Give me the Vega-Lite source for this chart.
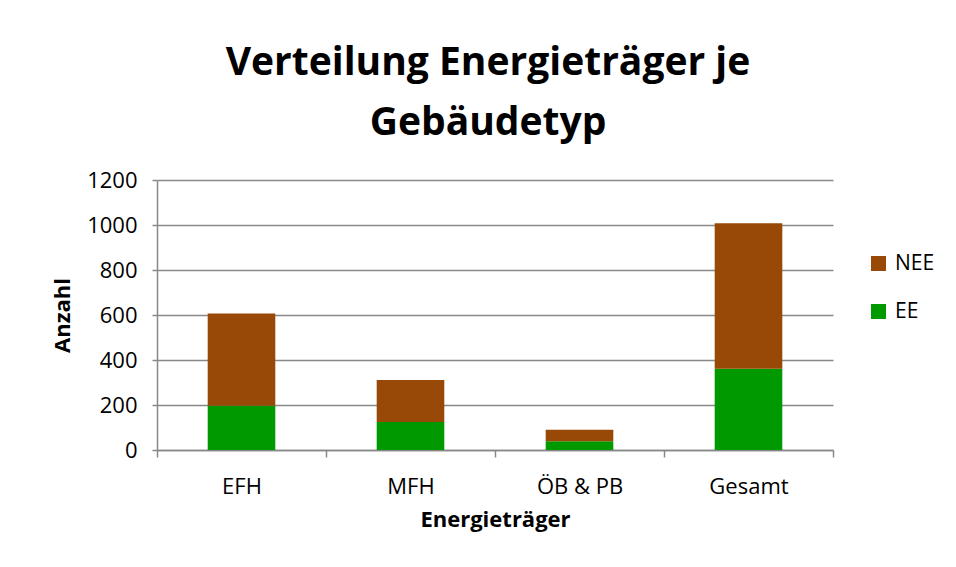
{
  "$schema": "https://vega.github.io/schema/vega-lite/v6.json",
  "width": 676,
  "height": 270,
  "autosize": {"type": "none"},
  "padding": {"left": 157, "top": 180, "right": 123, "bottom": 117},
  "background": "white",
  "title": {
    "text": ["Verteilung Energieträger je", "Gebäudetyp"],
    "font": "Open Sans",
    "fontSize": 39,
    "fontWeight": "bold",
    "lineHeight": 60,
    "color": "black",
    "anchor": "middle",
    "frame": "group",
    "dx": -7,
    "offset": 26
  },
  "data": {
    "values": [
      {"typ": "EFH", "art": "EE", "anzahl": 197},
      {"typ": "EFH", "art": "NEE", "anzahl": 410},
      {"typ": "MFH", "art": "EE", "anzahl": 125},
      {"typ": "MFH", "art": "NEE", "anzahl": 186},
      {"typ": "ÖB & PB", "art": "EE", "anzahl": 39},
      {"typ": "ÖB & PB", "art": "NEE", "anzahl": 51},
      {"typ": "Gesamt", "art": "EE", "anzahl": 361},
      {"typ": "Gesamt", "art": "NEE", "anzahl": 647}
    ]
  },
  "mark": {"type": "bar", "width": {"band": 0.4}},
  "encoding": {
    "x": {
      "field": "typ",
      "type": "nominal",
      "sort": ["EFH", "MFH", "ÖB & PB", "Gesamt"],
      "scale": {"paddingInner": 0, "paddingOuter": 0},
      "axis": {
        "title": "Energieträger",
        "labelAngle": 0,
        "ticks": true,
        "tickBand": "extent",
        "tickExtra": true,
        "tickSize": 7,
        "tickColor": "#888888",
        "tickWidth": 1.5,
        "tickOpacity": 1,
        "domainColor": "#888888",
        "domainWidth": 1.5,
        "labelPadding": 19,
        "titlePadding": 12
      }
    },
    "y": {
      "field": "anzahl",
      "type": "quantitative",
      "stack": "zero",
      "scale": {"domain": [0, 1200]},
      "axis": {
        "title": "Anzahl",
        "format": "d",
        "values": [0, 200, 400, 600, 800, 1000, 1200],
        "tickSize": 5,
        "tickColor": "#888888",
        "tickWidth": 1.5,
        "domainColor": "#888888",
        "domainWidth": 1.5,
        "gridColor": "#888888",
        "gridWidth": 1.5,
        "labelPadding": 15,
        "titlePadding": 12
      }
    },
    "color": {
      "field": "art",
      "type": "nominal",
      "scale": {"domain": ["NEE", "EE"], "range": ["#984807", "#009900"]},
      "legend": {
        "title": null,
        "orient": "none",
        "legendX": 711,
        "legendY": 73,
        "symbolType": "square",
        "symbolSize": 225,
        "symbolStrokeWidth": 0,
        "symbolOpacity": 1,
        "rowPadding": 26,
        "labelOffset": 6
      }
    },
    "order": {"field": "art", "sort": "ascending"}
  },
  "config": {
    "view": {"stroke": null},
    "axis": {
      "labelFont": "Open Sans",
      "labelFontSize": 22,
      "labelColor": "black",
      "titleFont": "Open Sans",
      "titleFontSize": 22,
      "titleFontWeight": "bold",
      "titleColor": "black"
    },
    "legend": {
      "labelFont": "Open Sans",
      "labelFontSize": 21,
      "labelColor": "black"
    }
  }
}
